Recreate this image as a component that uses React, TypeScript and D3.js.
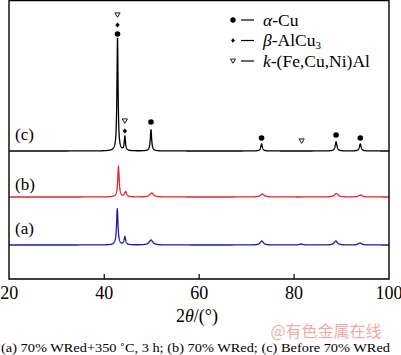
import React from "react";
import * as d3 from "d3";

// 2θ tick labels
const xTicks = [20, 40, 60, 80, 100];

// Peaks: [2θ (°), height (a.u.), half-width (°)]
const peaksC: [number, number, number][] = [
  [42.8, 113, 0.14], [44.35, 14, 0.15], [49.85, 21, 0.17], [73.15, 7, 0.2],
  [88.85, 9, 0.22], [93.95, 7, 0.22],
];
const peaksB: [number, number, number][] = [
  [43.0, 30, 0.18], [44.5, 5, 0.25], [50.0, 4, 0.45], [73.3, 3, 0.45],
  [88.9, 3.5, 0.45], [94.0, 2, 0.4],
];
const peaksA: [number, number, number][] = [
  [42.75, 36, 0.18], [44.35, 8, 0.2], [49.85, 5, 0.45], [73.2, 4, 0.4],
  [81.5, 1, 0.4], [88.8, 4, 0.4], [93.9, 2, 0.4],
];
// baselines (a.u.)
const offsets = { a: 34, b: 82, c: 128 };
const seriesNames = ["(a)", "(b)", "(c)"];
const seriesColors = ["#1c1ca6", "#e3262d", "#000000"];

// Phase markers on (c): [2θ, level (a.u.), phase]
const markers: [number, number, string][] = [
  [42.8, 245, "cu"], [42.8, 254, "al"], [42.8, 264, "k"],
  [44.35, 148, "al"], [44.35, 158, "k"],
  [49.85, 157, "cu"], [73.15, 141, "cu"], [81.6, 138, "k"],
  [88.85, 144, "cu"], [93.95, 141, "cu"],
];

const W = 401, H = 355;
const left = 9, right = 389, top = 0.5, bottom = 279;

function profile(peaks: [number, number, number][], base: number) {
  const pts: [number, number][] = [];
  for (let x = 20; x <= 100.0001; x += 0.02) {
    let y = base;
    for (const [c, h, w] of peaks) {
      const t = (x - c) / w;
      y += h / (1 + t * t);
    }
    pts.push([x, y]);
  }
  return pts;
}

function Marker({ type, x, y, s = 1 }: { type: string; x: number; y: number; s?: number }) {
  if (type === "cu") return <circle cx={x} cy={y} r={2.8 * s} fill="#000" />;
  if (type === "al") {
    const d = 2.6 * s;
    return <path d={`M${x},${y - d}L${x + d * 0.85},${y}L${x},${y + d}L${x - d * 0.85},${y}Z`} fill="#000" />;
  }
  const d = 2.6 * s;
  return (
    <path d={`M${x - d},${y - d * 0.8}L${x + d},${y - d * 0.8}L${x},${y + d * 0.9}Z`}
      fill="#fff" stroke="#000" strokeWidth={0.9} />
  );
}

export default function App() {
  const x = d3.scaleLinear().domain([20, 100]).range([left + 0.3, right]);
  const y = d3.scaleLinear().domain([0, 279]).range([279, 0]);
  const line = d3.line<[number, number]>().x((d) => x(d[0])).y((d) => y(d[1]));
  const data = [profile(peaksA, offsets.a), profile(peaksB, offsets.b), profile(peaksC, offsets.c)];
  const labelY = [234, 190, 140];
  const font = "'Liberation Serif', 'Times New Roman', serif";
  const legend = [
    { t: "cu", label: <><tspan fontStyle="italic">α</tspan>-Cu</> },
    { t: "al", label: <><tspan fontStyle="italic">β</tspan>-AlCu<tspan fontSize="11" dy="3">3</tspan></> },
    { t: "k", label: <><tspan fontStyle="italic">k</tspan>-(Fe,Cu,Ni)Al</> },
  ];
  return (
    <svg width={W} height={H} style={{ position: "absolute", left: 0, top: 0, background: "#fff" }}
      fontFamily={font}>
      {data.map((d, i) => (
        <path key={i} d={line(d) || ""} fill="none" stroke={seriesColors[i]} strokeWidth={1.3} />
      ))}
      {seriesNames.map((n, i) => (
        <text key={n} x={15} y={labelY[i]} fontSize={17}>{n}</text>
      ))}
      {markers.map(([t, l, p], i) => (
        <Marker key={i} type={p} x={x(t)} y={y(l)} />
      ))}
      {legend.map((g, i) => (
        <g key={i}>
          <Marker type={g.t} x={233} y={20 + i * 20.5} s={g.t === "al" ? 0.85 : 0.95} />
          <line x1={241} x2={254} y1={20 + i * 20.5} y2={20 + i * 20.5} stroke="#000" strokeWidth={1.2} />
          <text x={263} y={25.5 + i * 20.5} fontSize={17.5}>{g.label}</text>
        </g>
      ))}
      <path d={`M${left},${top}H${right}V${bottom}H${left}Z`} fill="none" stroke="#000" strokeWidth={1.4} />
      {xTicks.map((t) => (
        <g key={t}>
          {t > 20 && t < 100 && (
            <line x1={x(t)} x2={x(t)} y1={bottom} y2={bottom - 5} stroke="#000" strokeWidth={1.2} />
          )}
          <text x={x(t)} y={299} fontSize={18} textAnchor="middle">{t}</text>
        </g>
      ))}
      <text x={197} y={322} fontSize={18} textAnchor="middle">
        2<tspan fontStyle="italic">θ</tspan>/(°)
      </text>
      <text x={326} y={337} fontSize={16} fill="rgba(232,90,90,0.55)" textAnchor="middle"
        fontFamily="'Noto Sans CJK SC', sans-serif">@有色金属在线</text>
      <text x={1} y={352} fontSize={13} textLength={389} lengthAdjust="spacingAndGlyphs">
        (a) 70%  WRed+350 ˚C, 3 h; (b) 70% WRed; (c) Before 70% WRed
      </text>
    </svg>
  );
}
